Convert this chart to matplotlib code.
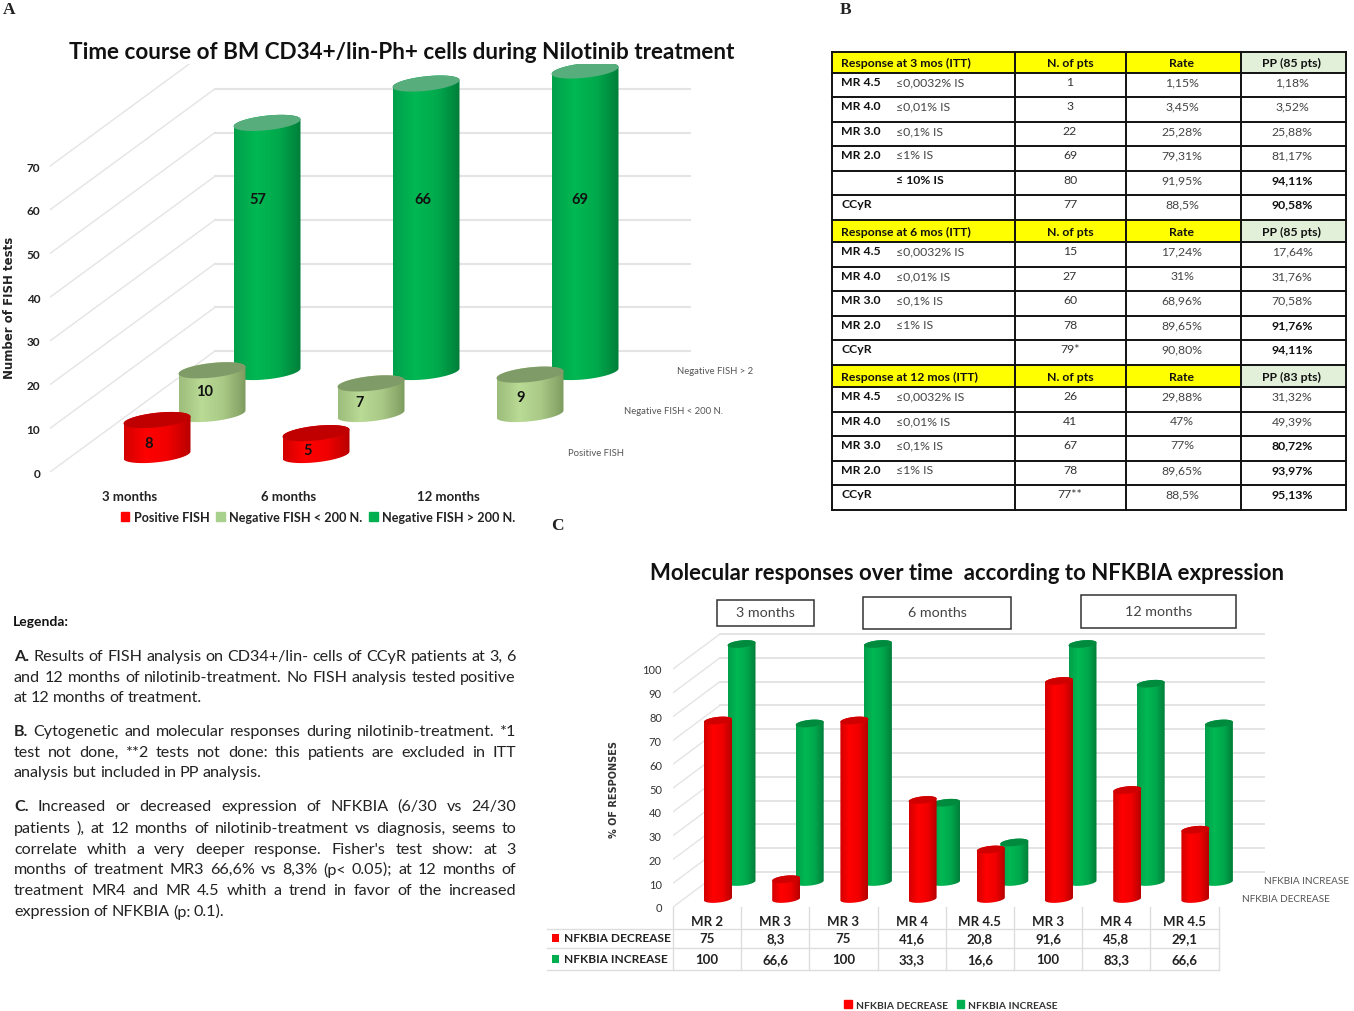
import numpy as np
import matplotlib
matplotlib.use('Agg')
import matplotlib.pyplot as plt
from matplotlib.colors import LinearSegmentedColormap
from matplotlib.patches import Patch, Polygon, Rectangle

W, H = 1354, 1012

# chart A
a_months = ['3 months', '6 months', '12 months']
a_positive = [8, 5, None]
a_neg_low = [10, 7, 9]
a_neg_high = [57, 66, 69]

# table B
b_headers = [['Response at 3 mos (ITT)', 'N. of pts', 'Rate', 'PP (85 pts)'],
             ['Response at 6 mos (ITT)', 'N. of pts', 'Rate', 'PP (85 pts)'],
             ['Response at 12 mos (ITT)', 'N. of pts', 'Rate', 'PP (83 pts)']]
b_names = [['MR 4.5', 'MR 4.0', 'MR 3.0', 'MR 2.0', '', 'CCyR'],
           ['MR 4.5', 'MR 4.0', 'MR 3.0', 'MR 2.0', 'CCyR'],
           ['MR 4.5', 'MR 4.0', 'MR 3.0', 'MR 2.0', 'CCyR']]
b_limits = [['≤0,0032% IS', '≤0,01% IS', '≤0,1% IS', '≤1% IS', '≤ 10% IS', ''],
            ['≤0,0032% IS', '≤0,01% IS', '≤0,1% IS', '≤1% IS', ''],
            ['≤0,0032% IS', '≤0,01% IS', '≤0,1% IS', '≤1% IS', '']]
b_pts = [['1', '3', '22', '69', '80', '77'],
         ['15', '27', '60', '78', '79*'],
         ['26', '41', '67', '78', '77**']]
b_rate = [['1,15%', '3,45%', '25,28%', '79,31%', '91,95%', '88,5%'],
          ['17,24%', '31%', '68,96%', '89,65%', '90,80%'],
          ['29,88%', '47%', '77%', '89,65%', '88,5%']]
b_pp = [['1,18%', '3,52%', '25,88%', '81,17%', '94,11%', '90,58%'],
        ['17,64%', '31,76%', '70,58%', '91,76%', '94,11%'],
        ['31,32%', '49,39%', '80,72%', '93,97%', '95,13%']]
b_pp_bold = [[0, 0, 0, 0, 1, 1], [0, 0, 0, 1, 1], [0, 0, 1, 1, 1]]
b_row_y = [53, 74, 98, 123, 147, 172, 196, 221, 243, 268, 292, 317, 341, 366, 388, 413, 437, 462, 486, 511]
b_col_x = [832, 1015, 1126, 1241, 1346]

# chart C
c_names = ['MR 2', 'MR 3', 'MR 3', 'MR 4', 'MR 4.5', 'MR 3', 'MR 4', 'MR 4.5']
c_decrease = [75, 8.3, 75, 41.6, 20.8, 91.6, 45.8, 29.1]
c_increase = [100, 66.6, 100, 33.3, 16.6, 100, 83.3, 66.6]
c_dec_labels = ['75', '8,3', '75', '41,6', '20,8', '91,6', '45,8', '29,1']
c_inc_labels = ['100', '66,6', '100', '33,3', '16,6', '100', '83,3', '66,6']

legend_lines = [
    ('A. Results of FISH analysis on CD34+/lin- cells of CCyR patients at 3, 6', 657, True),
    ('and 12 months of nilotinib-treatment. No FISH analysis tested positive', 678, True),
    ('at 12 months of treatment.', 698, False),
    ('B. Cytogenetic and molecular responses during nilotinib-treatment. *1', 732, True),
    ('test not done, **2 tests not done: this patients are excluded in ITT', 753, True),
    ('analysis but included in PP analysis.', 773, False),
    ('C. Increased or decreased expression of NFKBIA (6/30 vs 24/30', 807, True),
    ('patients ), at 12 months of nilotinib-treatment vs diagnosis, seems to', 829, True),
    ('correlate whith a very deeper response. Fisher\'s test show: at 3', 850, True),
    ('months of treatment MR3 66,6% vs 8,3% (p< 0.05); at 12 months of', 870, True),
    ('treatment MR4 and MR 4.5 whith a trend in favor of the increased', 891, True),
    ('expression of NFKBIA (p: 0.1).', 912, False),
]

RED = ['#d40000', '#ff0000', '#f00000', '#b80000']
LIGHT = ['#9dbd7c', '#b9db95', '#a9c986', '#7f9c60']
GREEN = ['#00a04a', '#00b853', '#00a94c', '#007f3a']

plt.rcParams['font.family'] = 'Lato'
fig = plt.figure(figsize=(W / 100, H / 100), dpi=100)

bg = fig.add_axes([0, 0, 1, 1])
bg.set_xlim(0, W)
bg.set_ylim(H, 0)
bg.set_axis_off()


def make_axes(left, right, bottom, top):
    ax = fig.add_axes([left / W, 1 - bottom / H, (right - left) / W, (bottom - top) / H])
    ax.patch.set_alpha(0)
    for s in ax.spines.values():
        s.set_visible(False)
    return ax


def ellipse(x, y, hw, a, tilt, t):
    return x + hw * np.cos(t), y + a * np.sin(t) + tilt * np.cos(t)


def cylinder(ax, x, base, h, hw, a, tilt, cols, top_col, z):
    t1 = np.linspace(np.pi, 2 * np.pi, 40)
    t2 = np.linspace(0, np.pi, 40)
    x1, y1 = ellipse(x, base, hw, a, tilt, t1)
    x2, y2 = ellipse(x, base + h, hw, a, tilt, t2)
    poly = Polygon(np.column_stack([np.r_[x1, x2], np.r_[y1, y2]]), closed=True,
                   facecolor='none', edgecolor='none', zorder=z)
    ax.add_patch(poly)
    cmap = LinearSegmentedColormap.from_list('c', cols)
    im = ax.imshow(np.linspace(0, 1, 64).reshape(1, -1), cmap=cmap, aspect='auto',
                   extent=[x - hw, x + hw, base - 2 * a, base + h + 2 * a],
                   interpolation='bilinear', zorder=z)
    im.set_clip_path(poly)
    t = np.linspace(0, 2 * np.pi, 80)
    ex, ey = ellipse(x, base + h, hw, a, tilt, t)
    ax.fill(ex, ey, color=top_col, lw=0, zorder=z + 0.1)


# ---------- chart A
a_unit = 4.37
a_step = 159
ax_a = make_axes(50, 700, 473, 30)
a_xlim = ((50 - 130) / a_step, (700 - 130) / a_step)
a_ylim = (0, (473 - 30) / a_unit)

wall = 121 / a_unit
wall_l = (215 - 130) / a_step
wall_r = (690 - 130) / a_step
for v in range(0, 80, 10):
    ax_a.plot([wall_l, wall_r], [v + wall, v + wall], color='#e4e4e4', lw=1.5, zorder=1)
    ax_a.plot([a_xlim[0], wall_l], [v, v + wall], color='#e4e4e4', lw=1, zorder=1)

a_series = [(a_neg_high, 137 / a_step, 100 / a_unit, GREEN, '#57ad7c', 10),
            (a_neg_low, 82 / a_step, 58 / a_unit, LIGHT, '#7f9c68', 20),
            (a_positive, 27 / a_step, 17 / a_unit, RED, '#c00000', 30)]
for vals, dx, dy, cols, top_col, z in a_series:
    for i, v in enumerate(vals):
        if v is None:
            continue
        cylinder(ax_a, i + dx, dy, v, 33.5 / a_step, 7.3 / a_unit, 3.5 / a_unit, cols, top_col, z + i)

a_label_pos = [(57, 258, 200), (66, 423, 200), (69, 580, 200),
               (10, 205, 392), (7, 360, 403), (9, 521, 398),
               (8, 149, 444), (5, 308, 451)]
for v, px, py in a_label_pos:
    ax_a.text(px, py, str(v), transform=bg.transData, ha='center', va='center', fontsize=10.5,
              fontweight='bold', color='#111111', zorder=60)

ax_a.set_xlim(a_xlim)
ax_a.set_ylim(a_ylim)
ax_a.set_xticks(range(3), a_months)
ax_a.set_yticks(range(0, 80, 10))
ax_a.tick_params(axis='y', length=0, pad=7, labelsize=8.5)
ax_a.tick_params(axis='x', length=0, pad=13, labelsize=9.5)
for lab in ax_a.get_xticklabels() + ax_a.get_yticklabels():
    lab.set_fontweight('bold')
    lab.set_color('#222222')

ax_a.text(402, 52, 'Time course of BM CD34+/lin-Ph+ cells during Nilotinib treatment', transform=bg.transData,
          ha='center', va='center', fontsize=16.2, fontweight='bold', color='#111111', zorder=70, clip_on=False,
          bbox=dict(facecolor='white', edgecolor='none', pad=2))
bg.text(10, 308, 'Number of FISH tests', rotation=90, ha='center', va='center', fontsize=8.5,
        fontweight='bold', family='DejaVu Sans', color='#222222')
for txt, px, py in [('Negative FISH > 2', 715, 371), ('Negative FISH < 200 N.', 673, 412), ('Positive FISH', 596, 453)]:
    bg.text(px, py, txt, ha='center', va='center', fontsize=6.8, color='#555555')

leg_a = fig.legend(handles=[Patch(color='#ff0000', label='Positive FISH'),
                            Patch(color='#a9d18e', label='Negative FISH < 200 N.'),
                            Patch(color='#00b050', label='Negative FISH > 200 N.')],
                   loc='center', bbox_to_anchor=(318 / W, 1 - 518 / H), ncol=3, frameon=False,
                   handlelength=0.7, handleheight=0.7, handletextpad=0.35, columnspacing=0.5,
                   prop={'size': 9.1, 'weight': 'bold'})
for t in leg_a.get_texts():
    t.set_color('#222222')

# ---------- table B
rows = []
for k in range(3):
    rows.append(('h', k, 0))
    for j in range(len(b_names[k])):
        rows.append(('r', k, j))

b_fs = 8.8
for r, (kind, k, j) in enumerate(rows):
    top, bot = b_row_y[r], b_row_y[r + 1]
    if kind == 'h':
        bg.add_patch(Rectangle((b_col_x[0], top), b_col_x[3] - b_col_x[0], bot - top, facecolor='#ffff00', edgecolor='none'))
        bg.add_patch(Rectangle((b_col_x[3], top), b_col_x[4] - b_col_x[3], bot - top, facecolor='#e2efd9', edgecolor='none'))
        cy = (top + bot) / 2
        head = b_headers[k]
        bg.text(841, cy, head[0], ha='left', va='center', fontsize=b_fs, fontweight='bold', color='#111111')
        for c, cx in enumerate([1070, 1182, 1292]):
            bg.text(cx, cy, head[c + 1], ha='center', va='center', fontsize=b_fs, fontweight='bold', color='#111111')
    else:
        cy = top + 8.5
        bg.text(841, cy, b_names[k][j], ha='left', va='center', fontsize=b_fs, fontweight='bold', color='#111111')
        lim = b_limits[k][j]
        if lim:
            is_bold = lim.startswith('≤ ')
            bg.text(896, cy, lim, ha='left', va='center', fontsize=b_fs, color='#111111' if is_bold else '#444444',
                    fontweight='bold' if is_bold else 'normal')
        bg.text(1070, cy, b_pts[k][j], ha='center', va='center', fontsize=b_fs, color='#333333')
        bg.text(1182, cy, b_rate[k][j], ha='center', va='center', fontsize=b_fs, color='#444444')
        bold = b_pp_bold[k][j]
        bg.text(1292, cy, b_pp[k][j], ha='center', va='center', fontsize=b_fs,
                fontweight='bold' if bold else 'normal', color='#111111' if bold else '#444444')

for y in b_row_y:
    bg.plot([b_col_x[0], b_col_x[-1]], [y, y], color='#111111', lw=1.4, solid_capstyle='projecting')
for x in b_col_x:
    bg.plot([x, x], [b_row_y[0], b_row_y[-1]], color='#111111', lw=1.4, solid_capstyle='projecting')

# ---------- legend text
fig.canvas.draw()
renderer = fig.canvas.get_renderer()
bg.text(13, 622, 'Legenda:', ha='left', va='center', fontsize=10, fontweight='bold', color='#111111')
x_left, x_right = 14, 516
for line, y, justify in legend_lines:
    words = line.split(' ')
    items = []
    for n, w in enumerate(words):
        bold = n == 0 and w in ('A.', 'B.', 'C.')
        items.append(bg.text(x_left, y, w, ha='left', va='center', fontsize=11.6, color='#222222',
                             fontweight='bold' if bold else 'normal'))
    widths = [it.get_window_extent(renderer).width for it in items]
    gap = (x_right - x_left - sum(widths)) / (len(words) - 1) if justify else 3.4
    x = x_left
    for it, wd in zip(items, widths):
        it.set_x(x)
        x += wd + gap

# ---------- chart C
c_unit = 2.38
c_step = 68.2
ax_c = make_axes(673, 1270, 908, 620)
c_xlim = ((673 - 707) / c_step, (1270 - 707) / c_step)
c_ylim = (0, (908 - 620) / c_unit)
c_wall = 35 / c_unit
c_wl = (720 - 707) / c_step
c_wr = (1264 - 707) / c_step
for v in range(0, 110, 10):
    ax_c.plot([c_wl, c_wr], [v + c_wall, v + c_wall], color='#e4e4e4', lw=1.4, zorder=1)
    ax_c.plot([c_xlim[0], c_wl], [v, v + c_wall], color='#e4e4e4', lw=1, zorder=1)

for i, v in enumerate(c_increase):
    cylinder(ax_c, i + 34.5 / c_step, 25 / c_unit, v, 14 / c_step, 3.6 / c_unit, 1.4 / c_unit,
             GREEN, '#008a3e', 10 + i)
for i, v in enumerate(c_decrease):
    cylinder(ax_c, i + 11 / c_step, 8 / c_unit, v, 14 / c_step, 3.6 / c_unit, 1.4 / c_unit,
             RED, '#d00000', 30 + i)

ax_c.set_xlim(c_xlim)
ax_c.set_ylim(c_ylim)
ax_c.set_yticks(range(0, 110, 10))
ax_c.set_xticks(range(8), c_names)
ax_c.tick_params(axis='y', length=0, pad=8, labelsize=8)
ax_c.tick_params(axis='x', length=0, pad=5.5, labelsize=9.5)
for lab in ax_c.get_yticklabels():
    lab.set_color('#333333')
for lab in ax_c.get_xticklabels():
    lab.set_fontweight('bold')
    lab.set_color('#222222')

bg.text(967, 573, 'Molecular responses over time  according to NFKBIA expression', ha='center', va='center',
        fontsize=15.9, fontweight='bold', color='#111111')
bg.text(614, 790, '% OF RESPONSES', rotation=90, ha='center', va='center', fontsize=7,
        fontweight='bold', family='DejaVu Sans', color='#333333')

c_table_x = [673 + c_step * i for i in range(9)]
for x in c_table_x:
    bg.plot([x, x], [908, 971], color='#dddddd', lw=1)
for y in [930, 949, 971]:
    bg.plot([547, c_table_x[-1]], [y, y], color='#dddddd', lw=1)
for y, vals, col, name in [(939, c_dec_labels, '#ff0000', 'NFKBIA DECREASE'), (960, c_inc_labels, '#00b050', 'NFKBIA INCREASE')]:
    bg.add_patch(Rectangle((552, y - 4), 7, 8, facecolor=col, edgecolor='none'))
    bg.text(564, y, name, ha='left', va='center', fontsize=8.6, fontweight='bold', color='#222222')
    for i, s in enumerate(vals):
        bg.text(707 + c_step * i, y, s, ha='center', va='center', fontsize=9.5, fontweight='bold', color='#222222')

for txt, x0, x1, y0, y1 in [('3 months', 717, 814, 601, 627), ('6 months', 863, 1011, 598, 630), ('12 months', 1081, 1236, 596, 629)]:
    bg.add_patch(Rectangle((x0, y0), x1 - x0, y1 - y0, facecolor='white', edgecolor='#333333', lw=1.1))
    bg.text((x0 + x1) / 2, (y0 + y1) / 2 - 1, txt, ha='center', va='center', fontsize=10.3, color='#444444')

bg.text(1307, 882, 'NFKBIA INCREASE', ha='center', va='center', fontsize=7.2, color='#555555')
t_cut = bg.text(1286, 900, 'NFKBIA DECREASE', ha='center', va='center', fontsize=7.2, color='#555555')
t_cut.set_clip_path(Rectangle((1230, 890), 120, 13, transform=bg.transData))

leg_c = fig.legend(handles=[Patch(color='#ff0000', label='NFKBIA DECREASE'),
                            Patch(color='#00b050', label='NFKBIA INCREASE')],
                   loc='center', bbox_to_anchor=(951 / W, 1 - 1006 / H), ncol=2, frameon=False,
                   handlelength=0.7, handleheight=0.7, handletextpad=0.4, columnspacing=0.9,
                   prop={'size': 7.4, 'weight': 'bold'})
for t in leg_c.get_texts():
    t.set_color('#333333')

# panel letters
for letter, px, py in [('A', 9, 10), ('B', 846, 10), ('C', 557, 526)]:
    bg.text(px, py, letter, ha='center', va='center', fontsize=12.5, fontweight='bold',
            family='Liberation Serif', color='#222222')

fig.savefig('out.png', dpi=100)
